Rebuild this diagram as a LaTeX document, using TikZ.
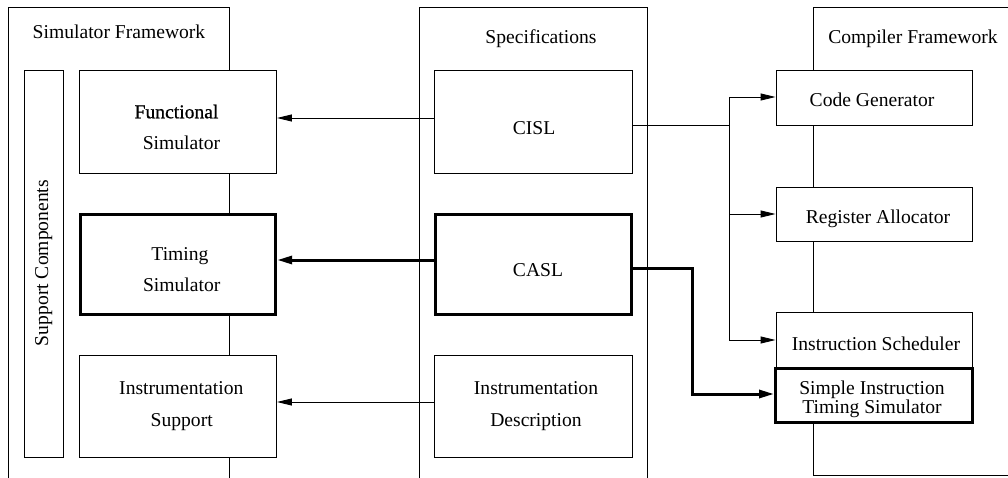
\documentclass[tikz,border=0pt]{standalone}
\usepackage{fontspec}
\setmainfont{Liberation Serif}
\newfontfamily\heavyfont[FakeBold=0.7]{Liberation Serif}
\usetikzlibrary{arrows.meta,calc,fit}
\begin{document}
\begin{tikzpicture}[x=1pt,y=-1pt,
  box/.style={draw,line width=0.9pt,fill=white,inner sep=0pt},
  hbox/.style={draw,line width=3pt,fill=white,inner sep=0pt},
  lbl/.style={anchor=base,inner sep=0pt,font=\fontsize{19.6}{24}\selectfont},
  frame/.style={line width=0.9pt},
  tarr/.style={line width=0.9pt,-{Triangle[length=15pt,width=7pt]}},
  harr/.style={line width=3pt,-{Triangle[length=15pt,width=8pt]}},
  tline/.style={line width=0.9pt},
  hline/.style={line width=3pt}]
\useasboundingbox (0,0) rectangle (1008,478);
% frames
\draw[frame] (8,478) -- (8,7.3) -- (229.3,7.3) -- (229.3,478);
\draw[frame] (419,478) -- (419,7.3) -- (647,7.3) -- (647,478);
\draw[frame] (1008,7.3) -- (813.3,7.3) -- (813.3,475.7) -- (1008,475.7);
% boxes
\node[box,fit={(24,70.5) (63,457)}] (sc) {};
\node[box,fit={(79.5,70.5) (276.5,173)}] (fs) {};
\node[hbox,fit={(80.5,214.5) (275.7,314.7)}] (ts) {};
\node[box,fit={(79.5,355) (276.5,457)}] (is) {};
\node[box,fit={(434,70.5) (632,173)}] (cisl) {};
\node[hbox,fit={(435,214.5) (631,314.7)}] (casl) {};
\node[box,fit={(434,355) (632,457)}] (idesc) {};
\node[box,fit={(776,70.5) (972.5,125)}] (cg) {};
\node[box,fit={(776,187) (972.5,241)}] (ra) {};
\node[box,fit={(776,312) (972.5,368)}] (isch) {};
\node[hbox,fit={(775.5,368.5) (972,422)}] (sits) {};
% labels
\node[lbl] (t1) at (119,39) {Simulator Framework};
\node[lbl] (t2) at (541,44) {Specifications};
\node[lbl] (t3) at (913,44) {Compiler Framework};
\node[lbl,rotate=90] (t4) at (48,263) {Support Components};
\node[lbl] (t5) at (176.5,118.3) {\heavyfont Functional};
\node[lbl] (t6) at (181.5,150) {Simulator};
\node[lbl] (t7) at (180,260.7) {Timing};
\node[lbl] (t8) at (181.7,291.7) {Simulator};
\node[lbl] (t9) at (181.3,394) {Instrumentation};
\node[lbl] (t10) at (181.7,426) {Support};
\node[lbl] (t11) at (534,134.3) {CISL};
\node[lbl] (t12) at (538,276) {CASL};
\node[lbl] (t13) at (536,394) {Instrumentation};
\node[lbl] (t14) at (536,426) {Description};
\node[lbl] (t15) at (872,107) {Code Generator};
\node[lbl] (t16) at (878,224) {Register Allocator};
\node[lbl] (t17) at (876,350) {Instruction Scheduler};
\node[inner sep=0pt,align=center,font=\fontsize{19.6}{16.5}\selectfont] (t18) at (872,399.6) {Simple Instruction\\Timing Simulator};
% connectors
\draw[tarr] (cisl.west |- 0,118) -- (fs.east |- 0,118);
\draw[harr] (casl.west |- 0,260) -- (ts.east |- 0,260);
\draw[tarr] (idesc.west |- 0,402) -- (is.east |- 0,402);
\coordinate (bm) at (729,125);
\coordinate (bt) at (729,97);
\coordinate (bb) at (729,340);
\draw[tline] (cisl.east |- bm) -- (bm);
\draw[tline] (bt) -- (bb);
\draw[tarr] (bt) -- (cg.west |- bt);
\draw[tarr] (bt |- ra.west) -- (ra.west);
\draw[tarr] (bb) -- (isch.west |- bb);
\coordinate (cj) at (692,268);
\draw[harr,line join=miter] (casl.east |- cj) -- (cj) |- (sits.west |- 0,394);
\end{tikzpicture}
\end{document}
